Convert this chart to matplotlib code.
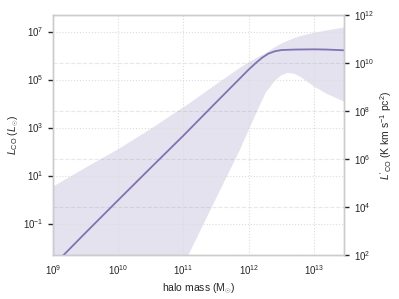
import numpy as np
import matplotlib
matplotlib.use("Agg")
import matplotlib.pyplot as plt

# valeurs (log10)
log_mass = [9.0, 9.5, 10.0, 10.5, 11.0, 11.5, 12.0, 12.1, 12.2, 12.3, 12.4,
            12.5, 12.7, 13.0, 13.2, 13.46]
log_lco = [-2.76, -1.38, -0.02, 1.33, 2.67, 4.05, 5.42, 5.67, 5.9, 6.08, 6.18,
           6.23, 6.25, 6.26, 6.25, 6.22]

band_mass = [9.0, 9.5, 10.0, 10.5, 11.0, 11.08, 11.5, 11.86, 12.0, 12.14, 12.26,
             12.4, 12.5, 12.6, 12.7, 12.8, 13.0, 13.2, 13.46]
band_hi = [0.54, 1.33, 2.1, 2.95, 3.85, 3.99, 4.8, 5.48, 5.72, 5.93, 6.1,
           6.35, 6.5, 6.62, 6.73, 6.82, 6.95, 7.05, 7.17]
band_lo = [-14.0, -11.0, -8.2, -5.4, -2.75, -2.29, 0.05, 2.04, 2.9, 3.75, 4.45,
           4.95, 5.18, 5.28, 5.24, 5.1, 4.71, 4.4, 4.08]

# L_CO = 4.9e-5 L'_CO
lco_factor = 4.9e-5
right_ticks = [1e2, 1e4, 1e6, 1e8, 1e10, 1e12]
left_ticks = [1e-1, 1e1, 1e3, 1e5, 1e7]
mass_ticks = [1e9, 1e10, 1e11, 1e12, 1e13]

plt.rcParams["font.family"] = ["Liberation Sans", "DejaVu Sans"]
plt.rcParams["mathtext.fontset"] = "custom"
plt.rcParams["mathtext.rm"] = "Liberation Sans"
plt.rcParams["mathtext.it"] = "Liberation Sans:italic"
plt.rcParams["font.size"] = 7
text_col = "#262626"
purple = "#8172b3"

fig = plt.figure(figsize=(3.99, 2.99), dpi=100)
ax = fig.add_axes([53 / 399, 1 - 255 / 299, 291 / 399, 240 / 299])
ax2 = ax.twinx()

m = 10 ** np.array(log_mass)
mb = 10 ** np.array(band_mass)
ax.fill_between(mb, 10 ** np.array(band_lo), 10 ** np.array(band_hi),
                color=purple, alpha=0.2, lw=0)
ax.plot(m, 10 ** np.array(log_lco), color=purple, lw=1.3)

ax.set_xscale("log")
ax.set_yscale("log")
ax2.set_yscale("log")
ax.set_xlim(1e9, 10 ** 13.46)
ax2.set_ylim(1e2, 1e12)
ax.set_ylim(1e2 * lco_factor, 1e12 * lco_factor)

ax.set_xticks(mass_ticks)
ax.set_yticks(left_ticks)
ax2.set_yticks(right_ticks)
ax.minorticks_off()
ax2.minorticks_off()

# grille : pointillés pour l'axe gauche, tirets pour l'axe droit
ax.grid(True, ls=":", color="#dcdcdc", lw=0.8)
ax2.grid(True, axis="y", ls="--", color="#e8e8e8", lw=0.8)
ax.set_zorder(ax2.get_zorder() + 1)
ax.patch.set_visible(False)

for a in (ax, ax2):
    for sp in a.spines.values():
        sp.set_color("#cccccc")
        sp.set_linewidth(1.0)
    a.tick_params(colors=text_col, labelsize=7, length=3.5, width=1.0)
ax.tick_params(axis="x", length=0, pad=6)

ax.set_xlabel(r"halo mass (M$_{\odot}$)", color=text_col, fontsize=7.5, labelpad=3)
ax.set_ylabel(r"$L_{\rm CO}$ ($L_{\odot}$)", color=text_col, fontsize=7.5, labelpad=1)
ax2.set_ylabel(r"$L'_{\rm CO}$ (K km s$^{-1}$ pc$^2$)", color=text_col,
               fontsize=7.5, labelpad=3)

fig.savefig("out.png", dpi=100)
